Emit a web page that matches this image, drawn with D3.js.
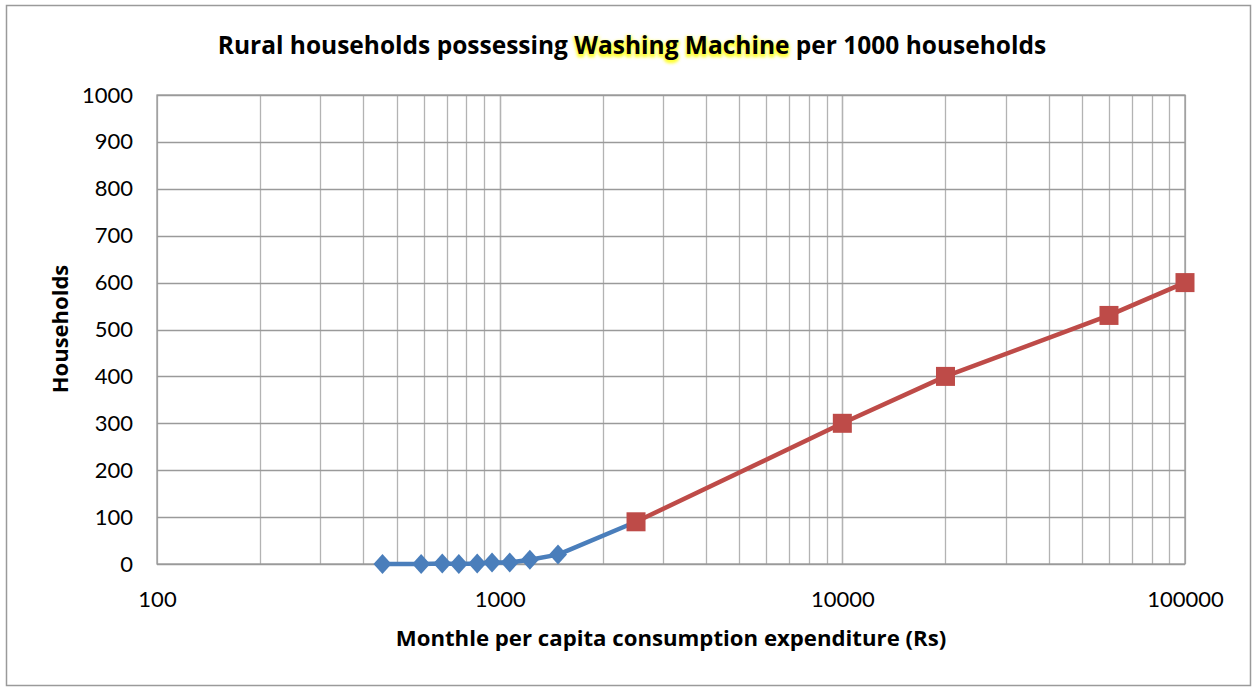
<!DOCTYPE html>
<html>
<head>
<meta charset="utf-8">
<script src="https://cdn.jsdelivr.net/npm/d3@7"></script>
<style>
  body { margin: 0; background: #fff; }
  svg text { font-family: Lato, "Open Sans", sans-serif; }
  svg text.bold { font-family: "Open Sans", Lato, sans-serif; font-weight: bold; }
</style>
</head>
<body>
<svg id="chart" width="1252" height="687"></svg>
<script>
// data
var blueX = [455, 590, 680, 760, 860, 950, 1070, 1225, 1480, 2500];
var blueY = [0, 0, 1, 0, 1, 3, 3, 9, 20, 90];
var redX = [2500, 10000, 20000, 60000, 100000];
var redY = [90, 300, 400, 530, 600];
var xTicks = [100, 1000, 10000, 100000];
var yTicks = [0, 100, 200, 300, 400, 500, 600, 700, 800, 900, 1000];

var svg = d3.select("#chart");
var margin = {top: 95, right: 67, bottom: 123, left: 157};
var width = 1252 - margin.left - margin.right;
var height = 687 - margin.top - margin.bottom;

// outer frame
svg.append("rect")
    .attr("x", 6.5).attr("y", 5.5)
    .attr("width", 1252 - 8).attr("height", 687 - 7)
    .attr("fill", "#fff").attr("stroke", "#9a9a9a").attr("stroke-width", 1.5);

var g = svg.append("g").attr("transform", "translate(" + margin.left + "," + margin.top + ")");

var x = d3.scaleLog().domain([100, 100000]).range([0, width]);
var y = d3.scaleLinear().domain([0, 1000]).range([height, 0]);

// minor + major vertical grid
var vgrid = [];
[100, 1000, 10000].forEach(function(p) {
  for (var k = 1; k <= 10; k++) vgrid.push(p * k);
});
g.append("g").selectAll("line")
    .data(vgrid)
    .enter().append("line")
      .attr("x1", function(d) { return Math.round(x(d)) + 0.5; })
      .attr("x2", function(d) { return Math.round(x(d)) + 0.5; })
      .attr("y1", 0).attr("y2", height)
      .attr("stroke", "#b3b3b3").attr("stroke-width", 1.3);

g.append("g").selectAll("line")
    .data(yTicks)
    .enter().append("line")
      .attr("x1", 0).attr("x2", width)
      .attr("y1", function(d) { return Math.round(y(d)) + 0.5; })
      .attr("y2", function(d) { return Math.round(y(d)) + 0.5; })
      .attr("stroke", "#9a9a9a").attr("stroke-width", 1.3);

g.append("rect")
    .attr("width", width).attr("height", height)
    .attr("fill", "none").attr("stroke", "#9a9a9a").attr("stroke-width", 1.3);

// axes
var yAxis = g.append("g")
    .call(d3.axisLeft(y).tickValues(yTicks).tickFormat(d3.format("d")).tickSize(0).tickPadding(24));
yAxis.select(".domain").remove();
yAxis.selectAll("text").attr("font-size", 22).attr("fill", "#000")
    .style("font-family", "Lato, sans-serif");

var xAxis = g.append("g")
    .attr("transform", "translate(0," + height + ")")
    .call(d3.axisBottom(x).tickValues(xTicks).tickFormat(d3.format("d")).tickSize(0).tickPadding(27));
xAxis.select(".domain").remove();
xAxis.selectAll("text").attr("font-size", 22).attr("fill", "#000")
    .style("font-family", "Lato, sans-serif");

// lines
var line = d3.line()
    .x(function(d) { return x(d[0]); })
    .y(function(d) { return y(d[1]); });

var blue = blueX.map(function(v, i) { return [v, blueY[i]]; });
var red = redX.map(function(v, i) { return [v, redY[i]]; });

g.append("path").datum(blue)
    .attr("d", line).attr("fill", "none")
    .attr("stroke", "#4a7ebb").attr("stroke-width", 4.5).attr("stroke-linejoin", "round");

g.selectAll(".dia")
    .data(blue.slice(0, blue.length - 1))
    .enter().append("path")
      .attr("class", "dia")
      .attr("transform", function(d) { return "translate(" + x(d[0]) + "," + y(d[1]) + ")"; })
      .attr("d", "M0,-10L9,0L0,10L-9,0Z")
      .attr("fill", "#4a7ebb");

g.append("path").datum(red)
    .attr("d", line).attr("fill", "none")
    .attr("stroke", "#be4b48").attr("stroke-width", 4.5).attr("stroke-linejoin", "round");

g.selectAll(".sq")
    .data(red)
    .enter().append("rect")
      .attr("class", "sq")
      .attr("x", function(d) { return x(d[0]) - 9.5; })
      .attr("y", function(d) { return y(d[1]) - 9.5; })
      .attr("width", 19).attr("height", 19)
      .attr("fill", "#be4b48");

// titles
var defs = svg.append("defs");
defs.append("filter").attr("id", "glow")
    .attr("x", "-10%").attr("y", "-50%").attr("width", "120%").attr("height", "200%")
  .append("feGaussianBlur").attr("stdDeviation", 1.8);

var titleParts = [
  {t: "Rural households possessing ", hl: false},
  {t: "Washing Machine", hl: true},
  {t: " per 1000 households", hl: false}
];

// glow layer
var glow = svg.append("text")
    .attr("class", "bold")
    .attr("x", 632).attr("y", 56)
    .attr("text-anchor", "middle")
    .attr("font-size", 24.5)
    .attr("filter", "url(#glow)");
glow.selectAll("tspan").data(titleParts).enter().append("tspan")
    .text(function(d) { return d.t; })
    .attr("fill", function(d) { return d.hl ? "#ffff33" : "none"; })
    .attr("stroke", function(d) { return d.hl ? "#ffff33" : "none"; })
    .attr("stroke-width", 2.5);

var title = svg.append("text")
    .attr("class", "bold")
    .attr("x", 632).attr("y", 54)
    .attr("text-anchor", "middle")
    .attr("font-size", 24.5).attr("fill", "#000");
title.selectAll("tspan").data(titleParts).enter().append("tspan")
    .text(function(d) { return d.t; });

svg.append("text")
    .attr("class", "bold")
    .attr("x", 671).attr("y", 646)
    .attr("text-anchor", "middle")
    .attr("font-size", 22.2)
    .text("Monthle per capita consumption expenditure (Rs)");

svg.append("text")
    .attr("class", "bold")
    .attr("transform", "translate(68,329) rotate(-90)")
    .attr("text-anchor", "middle")
    .attr("font-size", 22)
    .text("Households");
</script>
</body>
</html>
